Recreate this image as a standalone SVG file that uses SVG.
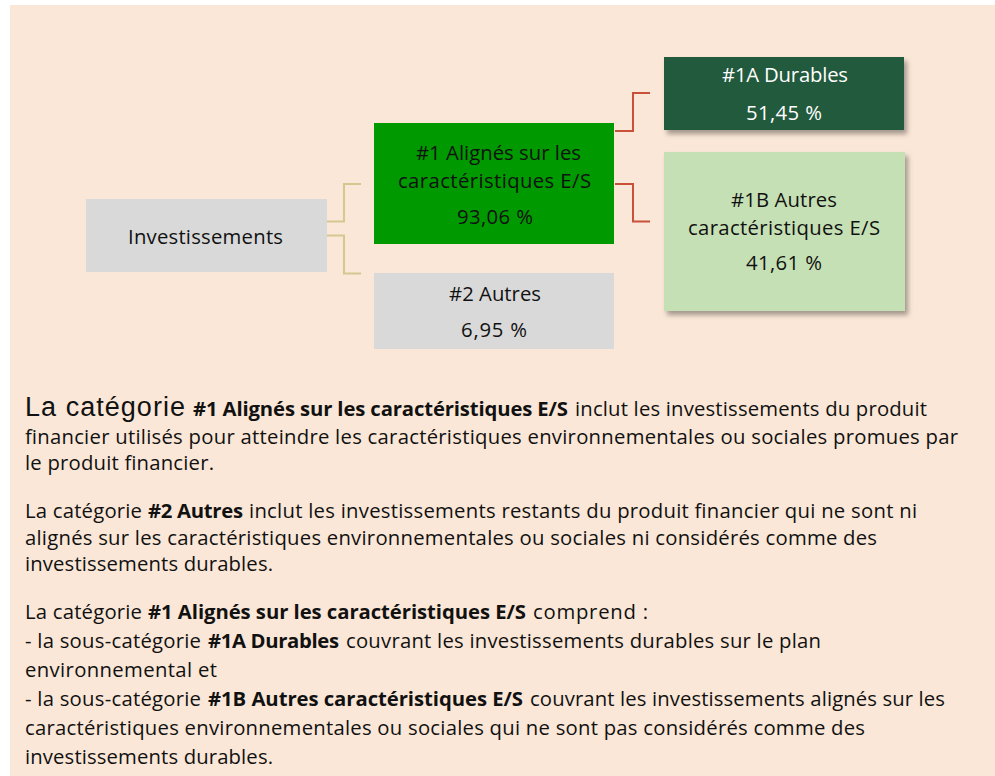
<svg xmlns="http://www.w3.org/2000/svg" width="995" height="776" viewBox="0 0 995 776">
<defs>
<filter id="sh" x="-10%" y="-10%" width="130%" height="140%">
<feDropShadow dx="3" dy="4" stdDeviation="2.5" flood-color="#000" flood-opacity="0.35"/>
</filter>
<style>
.t{font-family:"Open Sans","Noto Sans","Liberation Sans",sans-serif;font-size:20.3px;fill:#111}
.n{text-anchor:middle}
.w{fill:#fff}
.b{font-weight:bold}
.a{font-family:"Liberation Sans",Arial,sans-serif;font-size:27px}
.gray{fill:#D9D9D9}
.c1{fill:none;stroke:#D6C78E;stroke-width:2}
.c2{fill:none;stroke:#C9513A;stroke-width:2}
</style>
</defs>
<rect width="995" height="776" fill="#fff"/>
<rect x="10" y="5" width="985" height="771" fill="#FAE7D7"/>

<g id="connectors">
<polyline class="c1" points="327,221.5 344,221.5 344,184 361,184"/>
<polyline class="c1" points="327,235.5 344,235.5 344,273.5 361,273.5"/>
<polyline class="c2" points="615,131 633,131 633,93 650,93"/>
<polyline class="c2" points="615,184 633,184 633,221.5 650,221.5"/>
</g>

<g id="investissements">
<rect class="gray" x="86" y="199" width="241" height="73"/>
<text class="t n" x="205.5" y="244" textLength="155">Investissements</text>
</g>

<g id="n1">
<rect x="374" y="123" width="240" height="121" fill="#009900"/>
<text class="t n" x="498.5" y="160" textLength="165">#1 Alignés sur les</text>
<text class="t n" x="494.5" y="188" textLength="193">caractéristiques E/S</text>
<text class="t n" x="495" y="224" textLength="76">93,06 %</text>
</g>

<g id="n2">
<rect class="gray" x="374" y="273" width="240" height="76"/>
<text class="t n" x="495" y="301" textLength="92">#2 Autres</text>
<text class="t n" x="494" y="337" textLength="66">6,95 %</text>
</g>

<g id="n1a">
<rect x="664" y="57" width="240" height="73" fill="#245A3C" filter="url(#sh)"/>
<text class="t n w" x="785" y="82" textLength="126">#1A Durables</text>
<text class="t n w" x="784" y="120" textLength="76">51,45 %</text>
</g>

<g id="n1b">
<rect x="664" y="152" width="241" height="159" fill="#C5E0B4" filter="url(#sh)"/>
<text class="t n" x="784" y="207" textLength="106">#1B Autres</text>
<text class="t n" x="784" y="235" textLength="192">caractéristiques E/S</text>
<text class="t n" x="784" y="270" textLength="76">41,61 %</text>
</g>

<g id="text">
<text class="t" y="416"><tspan class="a" x="25" textLength="160">La catégorie</tspan><tspan class="b" x="193" textLength="375">#1 Alignés sur les caractéristiques E/S</tspan><tspan x="575" textLength="352">inclut les investissements du produit</tspan></text>
<text class="t" x="25" y="444" textLength="933">financier utilisés pour atteindre les caractéristiques environnementales ou sociales promues par</text>
<text class="t" x="25" y="470" textLength="189">le produit financier.</text>

<text class="t" y="518"><tspan x="25" textLength="117">La catégorie</tspan><tspan class="b" x="148" textLength="95">#2 Autres</tspan><tspan x="249" textLength="668">inclut les investissements restants du produit financier qui ne sont ni</tspan></text>
<text class="t" x="25" y="545" textLength="852">alignés sur les caractéristiques environnementales ou sociales ni considérés comme des</text>
<text class="t" x="25" y="571" textLength="248">investissements durables.</text>

<text class="t" y="619"><tspan x="25" textLength="117">La catégorie</tspan><tspan class="b" x="148" textLength="378">#1 Alignés sur les caractéristiques E/S</tspan><tspan x="533" textLength="115">comprend :</tspan></text>
<text class="t" y="648"><tspan x="25" textLength="176">- la sous-catégorie</tspan><tspan class="b" x="208" textLength="131">#1A Durables</tspan><tspan x="346" textLength="475">couvrant les investissements durables sur le plan</tspan></text>
<text class="t" x="25" y="677" textLength="192">environnemental et</text>
<text class="t" y="706"><tspan x="25" textLength="176">- la sous-catégorie</tspan><tspan class="b" x="208" textLength="315">#1B Autres caractéristiques E/S</tspan><tspan x="530" textLength="415">couvrant les investissements alignés sur les</tspan></text>
<text class="t" x="25" y="735" textLength="840">caractéristiques environnementales ou sociales qui ne sont pas considérés comme des</text>
<text class="t" x="25" y="764" textLength="248">investissements durables.</text>
</g>
</svg>
